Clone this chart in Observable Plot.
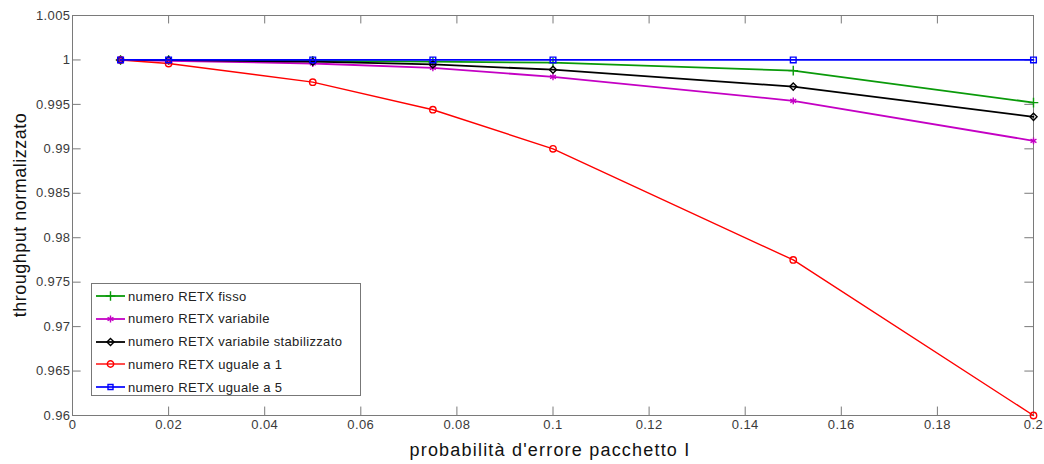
<!DOCTYPE html>
<html><head><meta charset="utf-8">
<script src="https://cdn.jsdelivr.net/npm/d3@7"></script>
<script src="https://cdn.jsdelivr.net/npm/@observablehq/plot@0.6"></script>
<style>
body{margin:0;background:#fff;font-family:"Liberation Sans",Arial,sans-serif;}
#wrap{position:relative;width:1044px;height:464px;}
#legend{position:absolute;left:91px;top:283px;width:270px;height:113px;border:1px solid #777;background:#fff;box-sizing:border-box;font-size:13px;letter-spacing:0.35px;color:#222;}
#legend .row{position:absolute;left:0;height:20px;display:flex;align-items:center;white-space:nowrap;}
#legend svg{display:block}
</style>
</head><body><div id="wrap"></div>
<script>
const xs = [0.01, 0.02, 0.05, 0.075, 0.1, 0.15, 0.2];
const fisso = [1.0, 1.0, 0.9999, 0.9998, 0.9997, 0.9988, 0.9952];
const variabile = [1.0, 0.9999, 0.9996, 0.9991, 0.9981, 0.9954, 0.9909];
const stabilizzato = [1.0, 1.0, 0.9998, 0.9995, 0.9989, 0.9970, 0.9936];
const uguale1 = [1.0, 0.9996, 0.9975, 0.9944, 0.9900, 0.9775, 0.9600];
const uguale5 = [1.0, 1.0, 1.0, 1.0, 1.0, 1.0, 1.0];
const seriesNames = ["numero RETX fisso","numero RETX variabile","numero RETX variabile stabilizzato","numero RETX uguale a 1","numero RETX uguale a 5"];
const seriesColors = ["#0a9a0a","#c400c4","#000000","#ff0000","#0000ff"];
const seriesSymbols = ["plus","asterisk","diamond2","circle","square"];
const seriesWidths = [1.8, 1.8, 1.8, 1.4, 1.7];
const xTicks = [0, 0.02, 0.04, 0.06, 0.08, 0.1, 0.12, 0.14, 0.16, 0.18, 0.2];
const yTicks = [0.96, 0.965, 0.97, 0.975, 0.98, 0.985, 0.99, 0.995, 1, 1.005];
const xLabel = "probabilità d'errore pacchetto I";
const yLabel = "throughput normalizzato";

const allSeries = [fisso, variabile, stabilizzato, uguale1, uguale5];
const data = [];
allSeries.forEach((vals, si) => vals.forEach((v, i) => data.push({x: xs[i], y: v, s: seriesNames[si], si})));

const axisGray = "#7a7a7a";
const xLen = 0.0018, yLen = 0.00095;
const marks = [
  Plot.frame({stroke: axisGray}),
  Plot.ruleX(xTicks, {x: d => d, y1: 0.96, y2: 0.96 + yLen, stroke: axisGray}),
  Plot.ruleX(xTicks, {x: d => d, y1: 1.005, y2: 1.005 - yLen, stroke: axisGray}),
  Plot.ruleY(yTicks, {y: d => d, x1: 0, x2: xLen, stroke: axisGray}),
  Plot.ruleY(yTicks, {y: d => d, x1: 0.2, x2: 0.2 - xLen, stroke: axisGray}),
  Plot.axisX({ticks: xTicks, tickSize: 0, tickPadding: 4, tickFormat: d => String(d), fontSize: 13, color: "#3a3a3a", label: null}),
  Plot.axisY({ticks: yTicks, tickSize: 0, tickPadding: 2, tickFormat: d => String(d), fontSize: 13, color: "#3a3a3a", label: null}),
];
seriesNames.forEach((name, si) => {
  const d = data.filter(r => r.si === si);
  marks.push(Plot.line(d, {x: "x", y: "y", stroke: seriesColors[si], strokeWidth: seriesWidths[si]}));
  marks.push(Plot.dot(d, {x: "x", y: "y", stroke: seriesColors[si], symbol: () => seriesSymbols[si], r: 3.2, strokeWidth: 1.4, fill: "none"}));
});

const chart = Plot.plot({
  width: 1044, height: 464,
  marginLeft: 72, marginTop: 15, marginRight: 11, marginBottom: 49,
  x: {domain: [0, 0.2]},
  y: {domain: [0.96, 1.005]},
  style: {fontFamily: "Liberation Sans, Arial, sans-serif", background: "#fff"},
  marks
});
const wrap = document.getElementById("wrap");
wrap.appendChild(chart);
d3.select(chart).selectAll("g[aria-label='x-axis tick label'] text, g[aria-label='y-axis tick label'] text").attr("letter-spacing", 0.4);

// axis labels
const svg = d3.select(chart);
svg.append("text").attr("x", 550).attr("y", 456).attr("text-anchor", "middle")
  .attr("font-size", 18).attr("letter-spacing", 1.2).attr("fill", "#111").text(xLabel);
svg.append("text").attr("transform", "translate(26,215) rotate(-90)").attr("text-anchor", "middle")
  .attr("font-size", 18).attr("letter-spacing", 0.5).attr("fill", "#111").text(yLabel);

// legend
const symMap = {plus: d3.symbolPlus, asterisk: d3.symbolAsterisk, diamond2: d3.symbolDiamond2, circle: d3.symbolCircle, square: d3.symbolSquare2};
const leg = document.createElement("div");
leg.id = "legend";
seriesNames.forEach((name, si) => {
  const row = document.createElement("div");
  row.className = "row";
  row.style.top = (2 + si * 22.8) + "px";
  const s = d3.create("svg").attr("width", 36).attr("height", 20);
  s.append("line").attr("x1", 4).attr("x2", 33).attr("y1", 10).attr("y2", 10).attr("stroke", seriesColors[si]).attr("stroke-width", seriesWidths[si]);
  s.append("path").attr("transform", "translate(18.5,10)")
    .attr("d", d3.symbol(symMap[seriesSymbols[si]], 32)())
    .attr("stroke", seriesColors[si]).attr("fill", "none").attr("stroke-width", 1.4);
  row.appendChild(s.node());
  const t = document.createElement("span");
  t.textContent = name;
  row.appendChild(t);
  leg.appendChild(row);
});
wrap.appendChild(leg);
</script>
</body></html>
